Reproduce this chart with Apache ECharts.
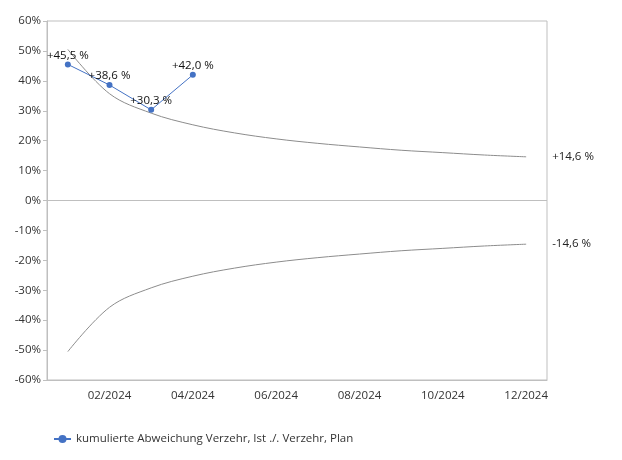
<!DOCTYPE html>
<html>
<head>
<meta charset="utf-8">
<script src="https://cdn.jsdelivr.net/npm/echarts@6/dist/echarts.min.js"></script>
<style>html,body{margin:0;padding:0;background:#fff}#c{width:622px;height:460px}</style>
</head>
<body>
<div id="c"></div>
<script>
const months = ['01/2024','02/2024','03/2024','04/2024','05/2024','06/2024','07/2024','08/2024','09/2024','10/2024','11/2024','12/2024'];
const seriesName = 'kumulierte Abweichung Verzehr, Ist ./. Verzehr, Plan';
const deviation = [45.5, 38.6, 30.3, 42.0];
const upperBand = [50.5, 35.7, 29.2, 25.3, 22.6, 20.6, 19.1, 17.9, 16.8, 16.0, 15.2, 14.6];
const lowerBand = [-50.5, -35.7, -29.2, -25.3, -22.6, -20.6, -19.1, -17.9, -16.8, -16.0, -15.2, -14.6];
const yTicks = {min: -60, max: 60, interval: 10};

const fmt = v => (v >= 0 ? '+' : '') + v.toFixed(1).replace('.', ',') + ' %';
const FONT = 'Open Sans';
const FS = 11.5;
const chart = echarts.init(document.getElementById('c'), null, {renderer: 'canvas'});
chart.setOption({
  animation: false,
  textStyle: {fontFamily: FONT},
  grid: {left: 47, right: 75, top: 21, bottom: 80, show: true, borderColor: '#bfbfbf', borderWidth: 1},
  legend: {
    data: [seriesName], left: 48, top: 428, itemWidth: 17, itemHeight: 10,
    textStyle: {fontFamily: FONT, fontSize: FS, color: '#333'}
  },
  xAxis: {
    type: 'category', data: months, boundaryGap: true,
    axisLine: {onZero: false, lineStyle: {color: '#bfbfbf'}},
    axisTick: {alignWithLabel: true, length: 5, interval: i => i % 2 === 1, lineStyle: {color: '#bfbfbf'}},
    axisLabel: {interval: i => i % 2 === 1, color: '#333', fontSize: FS, fontFamily: FONT, margin: 10},
    splitLine: {show: false}
  },
  yAxis: {
    type: 'value', min: yTicks.min, max: yTicks.max, interval: yTicks.interval,
    axisLine: {show: true, lineStyle: {color: '#bfbfbf'}},
    axisTick: {show: true, length: 4, lineStyle: {color: '#bfbfbf'}},
    axisLabel: {formatter: '{value}%', color: '#333', fontSize: FS, fontFamily: FONT, margin: 6},
    splitLine: {show: false}
  },
  series: [
    {
      name: 'upper', type: 'line', data: upperBand, smooth: 0.35, showSymbol: false,
      lineStyle: {color: '#8c8c8c', width: 1}, itemStyle: {color: '#8c8c8c'}, z: 1,
      endLabel: {show: true, distance: 26, formatter: p => fmt(p.value), color: '#222', fontSize: FS, fontFamily: FONT},
      markLine: {silent: true, symbol: 'none', label: {show: false}, lineStyle: {color: '#bfbfbf', type: 'solid', width: 1}, data: [{yAxis: 0}]}
    },
    {
      name: 'lower', type: 'line', data: lowerBand, smooth: 0.35, showSymbol: false,
      lineStyle: {color: '#8c8c8c', width: 1}, itemStyle: {color: '#8c8c8c'}, z: 1,
      endLabel: {show: true, distance: 26, formatter: p => fmt(p.value), color: '#222', fontSize: FS, fontFamily: FONT}
    },
    {
      name: seriesName, type: 'line', data: deviation, symbol: 'circle', symbolSize: 6,
      lineStyle: {color: '#4472c4', width: 1}, itemStyle: {color: '#4472c4'}, z: 3,
      label: {show: true, position: 'top', distance: 0, formatter: p => fmt(p.value), color: '#111', fontSize: FS, fontFamily: FONT}
    }
  ]
});
</script>
</body>
</html>
